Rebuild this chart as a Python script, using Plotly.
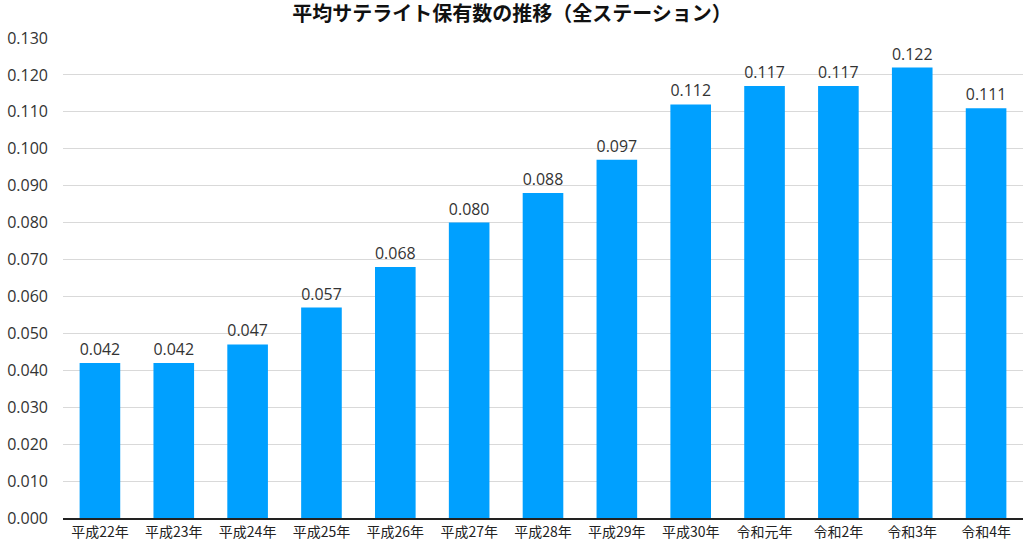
import plotly.graph_objects as go

categories = ["平成22年", "平成23年", "平成24年", "平成25年", "平成26年", "平成27年",
              "平成28年", "平成29年", "平成30年", "令和元年", "令和2年", "令和3年", "令和4年"]
values = [0.042, 0.042, 0.047, 0.057, 0.068, 0.080, 0.088, 0.097, 0.112, 0.117, 0.117, 0.122, 0.111]
y_ticks = [i / 100 for i in range(0, 14)]
title_text = "平均サテライト保有数の推移（全ステーション）"

FONT = "Noto Sans CJK JP"
NUM_FONT = "Open Sans"

fig = go.Figure(go.Bar(
    x=categories,
    y=values,
    marker=dict(color="#00a0ff", line=dict(width=0)),
    text=[f"{v:.3f}" for v in values],
    textposition="outside",
    textfont=dict(size=16, color="#333333", family=NUM_FONT),
    cliponaxis=False,
    hoverinfo="skip",
))

fig.update_layout(
    width=1024, height=539,
    margin=dict(l=63, r=1, t=38, b=21, autoexpand=False),
    paper_bgcolor="white", plot_bgcolor="white",
    bargap=0.45,
    showlegend=False,
    title=dict(text=title_text, x=0.5, xanchor="center", y=1 - 14 / 539, yanchor="middle",
               font=dict(size=20, color="#111111", family=FONT, weight="bold"),
               automargin=False),
    font=dict(family=FONT, color="#333333"),
)
fig.update_xaxes(
    showgrid=False, showline=True, linecolor="#222222", linewidth=2,
    tickfont=dict(size=14, color="#222222", family=FONT), ticks="", ticklabelstandoff=0,
    automargin=False,
)
fig.update_yaxes(
    range=[0, 0.130], tickvals=y_ticks, tickformat=".3f",
    showgrid=True, gridcolor="#d9d9d9", gridwidth=1, zeroline=False,
    tickfont=dict(size=16, color="#333333", family=NUM_FONT), ticklabelstandoff=14,
    automargin=False,
)

fig.write_html("out.html", config={"displayModeBar": False},
               post_script="document.body.style.margin='0';document.body.style.overflow='hidden';")
